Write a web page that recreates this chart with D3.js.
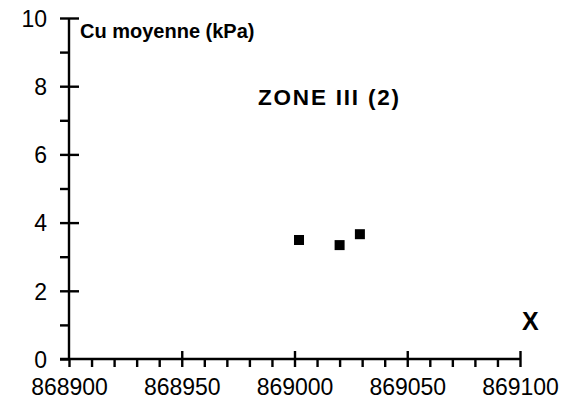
<!DOCTYPE html>
<html><head><meta charset="utf-8">
<script src="https://cdn.jsdelivr.net/npm/d3@7"></script>
<style>body{margin:0;background:#fff}svg{display:block}text{font-family:"Liberation Sans",Arial,Helvetica,sans-serif;fill:#000}</style>
</head><body><svg id="c" width="566" height="414"></svg>
<script>
const xValues = [869002, 869020, 869029];
const yValues = [3.49, 3.34, 3.66];
const xTicks = [868900, 868950, 869000, 869050, 869100];
const yTicks = [0, 2, 4, 6, 8, 10];
const xMinor = d3.range(868900, 869101, 10).filter(v => !xTicks.includes(v));
const yMinor = [1, 3, 5, 7, 9];
const yTitle = "Cu moyenne (kPa)";
const zoneLabel = "ZONE III (2)";
const xTitle = "X";

const svg = d3.select("#c");
const x = d3.scaleLinear().domain([868900, 869100]).range([69, 520]);
const y = d3.scaleLinear().domain([0, 10]).range([359, 18]);
const X0 = x(868900), Y0 = y(0);

// X axis
const gx = svg.append("g").attr("transform", `translate(0,${Y0})`);
gx.append("line").attr("x1", 60).attr("x2", x(869100)).attr("stroke", "#000").attr("stroke-width", 2.4);
gx.append("g").call(d3.axisBottom(x).tickValues(xMinor).tickSize(8).tickFormat(""))
  .call(g => g.select(".domain").remove())
  .selectAll("line").attr("stroke-width", 2.4);
gx.append("g").call(d3.axisBottom(x).tickValues(xTicks).tickSize(8).tickFormat(d3.format("d")))
  .call(g => g.select(".domain").remove())
  .call(g => g.selectAll(".tick line").attr("y1", d => d === 868900 ? 0 : -8).attr("stroke-width", 2.4))
  .call(g => g.selectAll(".tick text").attr("y", 36).attr("dy", 0).style("font-size", "23px").style("font-family", "Liberation Sans, Arial, sans-serif"));

// Y axis
const gy = svg.append("g").attr("transform", `translate(${X0},0)`);
gy.append("line").attr("y1", y(10)).attr("y2", Y0).attr("stroke", "#000").attr("stroke-width", 2.4);
gy.append("g").call(d3.axisLeft(y).tickValues(yMinor).tickSize(9).tickFormat(""))
  .call(g => g.select(".domain").remove())
  .selectAll("line").attr("stroke-width", 2.4);
gy.append("g").call(d3.axisLeft(y).tickValues(yTicks).tickSize(9).tickFormat(d3.format("d")))
  .call(g => g.select(".domain").remove())
  .call(g => g.selectAll(".tick line").attr("x2", d => d === 0 ? 0 : 10).attr("x1", -9).attr("stroke-width", 2.4))
  .call(g => g.selectAll(".tick text").attr("x", -22).attr("dy", "0.36em").style("font-size", "23px").style("font-family", "Liberation Sans, Arial, sans-serif"));

// points
svg.append("g").selectAll("rect").data(xValues.map((v, i) => [v, yValues[i]])).join("rect")
  .attr("x", d => x(d[0]) - 5).attr("y", d => y(d[1]) - 5)
  .attr("width", 10).attr("height", 10).attr("fill", "#000");

// texts
svg.append("text").attr("x", 80).attr("y", 38).style("font-size", "20px").style("font-weight", "bold").text(yTitle);
svg.append("text").attr("x", 258).attr("y", 105).style("font-size", "22.5px").style("font-weight", "bold").style("letter-spacing", "1.8px").text(zoneLabel);
svg.append("text").attr("x", 522).attr("y", 330).style("font-size", "25px").style("font-weight", "bold").text(xTitle);
</script></body></html>
